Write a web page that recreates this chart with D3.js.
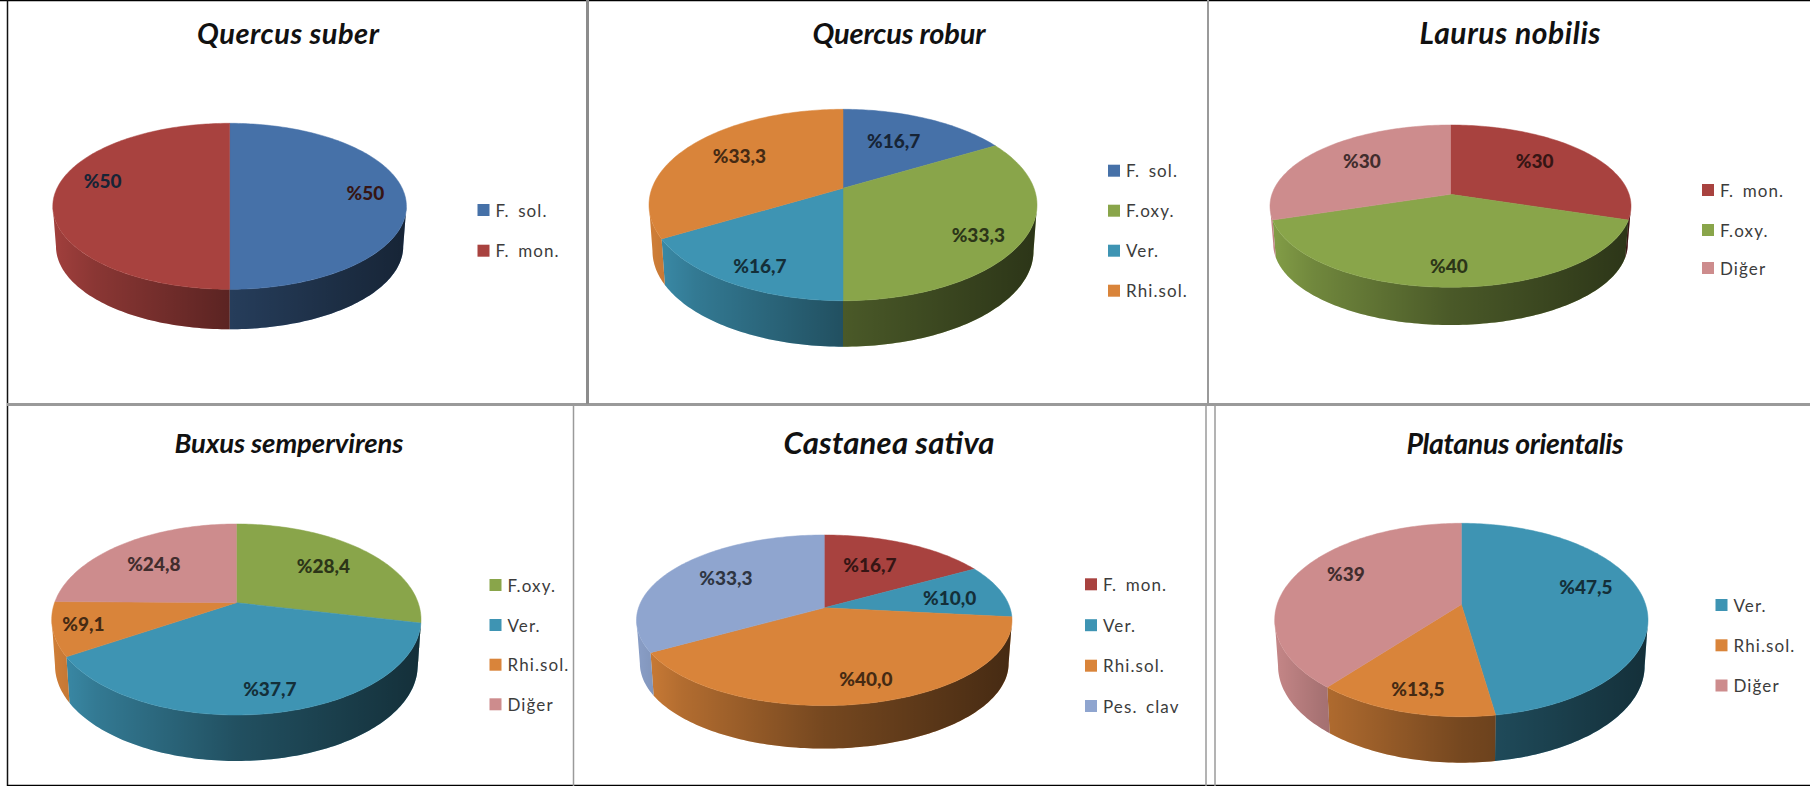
<!DOCTYPE html>
<html>
<head>
<meta charset="utf-8">
<script src="https://cdn.jsdelivr.net/npm/d3@7"></script>
<style>
  html, body { margin: 0; padding: 0; background: #fff; }
  svg { display: block; }
  .title { font-family: Lato, sans-serif; font-style: italic; font-weight: 700; text-anchor: middle; fill: #111; }
  .legend-text { font: 400 17px Lato, sans-serif; fill: #3c3c3c; letter-spacing: 1.1px; word-spacing: 3px; dominant-baseline: central; }
  .pct { font: 900 19px Lato, sans-serif; text-anchor: middle; dominant-baseline: central; }
</style>
</head>
<body>
<div class="chart"></div>
<script>
// === Data ===
const titles = ["Quercus suber", "Quercus robur", "Laurus nobilis", "Buxus sempervirens", "Castanea sativa", "Platanus orientalis"];

const suberNames = ["F. sol.", "F. mon."];
const suberValues = [50, 50];
const suberLabels = ["%50", "%50"];

const roburNames = ["F. sol.", "F.oxy.", "Ver.", "Rhi.sol."];
const roburValues = [16.7, 33.3, 16.7, 33.3];
const roburLabels = ["%16,7", "%33,3", "%16,7", "%33,3"];

const laurusNames = ["F. mon.", "F.oxy.", "Diğer"];
const laurusValues = [30, 40, 30];
const laurusLabels = ["%30", "%40", "%30"];

const buxusNames = ["F.oxy.", "Ver.", "Rhi.sol.", "Diğer"];
const buxusValues = [28.4, 37.7, 9.1, 24.8];
const buxusLabels = ["%28,4", "%37,7", "%9,1", "%24,8"];

const castaneaNames = ["F. mon.", "Ver.", "Rhi.sol.", "Pes. clav"];
const castaneaValues = [16.7, 10.0, 40.0, 33.3];
const castaneaLabels = ["%16,7", "%10,0", "%40,0", "%33,3"];

const platanusNames = ["Ver.", "Rhi.sol.", "Diğer"];
const platanusValues = [47.5, 13.5, 39];
const platanusLabels = ["%47,5", "%13,5", "%39"];

const fungusColor = d3.scaleOrdinal()
    .domain(["F. sol.", "F. mon.", "F.oxy.", "Ver.", "Rhi.sol.", "Diğer", "Pes. clav"])
    .range(["#4671a8", "#a8423f", "#89a54a", "#3e94b3", "#d9843a", "#cd8c8d", "#8fa5cf"]);

// === Layout of each panel (pie outline, value labels, legend, title) ===
const pies = [
    {left: 52.8, right: 406.4, top: 123.3, apex: 193, front: 289.3, depth: 40},
    {left: 649, right: 1037, top: 109.3, apex: 188.3, front: 300.7, depth: 46},
    {left: 1270, right: 1631, top: 125, apex: 194.3, front: 287.3, depth: 37.7},
    {left: 51.7, right: 421, top: 524, apex: 602.7, front: 715, depth: 46},
    {left: 636.5, right: 1012, top: 535, apex: 607.8, front: 705.6, depth: 43},
    {left: 1274.7, right: 1648, top: 523.3, apex: 604.4, front: 716.7, depth: 46}
];
const labelSpots = [
    [[102.6, 180], [365.5, 192.7]],
    [[893.7, 140], [978.3, 234.3], [760, 265], [739.5, 155]],
    [[1534.6, 160.7], [1449, 265.7], [1361.9, 160.7]],
    [[323.4, 565.2], [269.8, 688.2], [83.4, 623.9], [153.8, 563.2]],
    [[870, 564.2], [949.6, 597.7], [866, 678.8], [726, 577]],
    [[1586, 586], [1417.9, 688.2], [1346, 573.6]]
];
const legends = [
    {x: 477.5, ys: [210, 250.7]},
    {x: 1108, ys: [170.7, 210.7, 250.7, 290.7]},
    {x: 1702, ys: [190, 230, 268]},
    {x: 489.5, ys: [585, 625, 664.7, 704.3]},
    {x: 1085, ys: [584.3, 625.2, 665.7, 706]},
    {x: 1715.5, ys: [605, 645.3, 685.5]}
];
const titleSpots = [[288, 44], [899, 44], [1510, 44], [289, 453], [889, 454], [1515, 454]];
const titleWidths = [182, 173, 181, 229, 211, 217];
const titleSizes = [29, 29, 30, 27.5, 31, 28.5];

const panels = [
    {names: suberNames, values: suberValues, labels: suberLabels},
    {names: roburNames, values: roburValues, labels: roburLabels},
    {names: laurusNames, values: laurusValues, labels: laurusLabels},
    {names: buxusNames, values: buxusValues, labels: buxusLabels},
    {names: castaneaNames, values: castaneaValues, labels: castaneaLabels},
    {names: platanusNames, values: platanusValues, labels: platanusLabels}
];

// === Frame lines between the panels ===
const frameLines = [
    {x1: 0, y1: 0.5, x2: 1810, y2: 0.5, color: "#000", w: 1.5},
    {x1: 7.5, y1: 0, x2: 7.5, y2: 786, color: "#111", w: 1.5},
    {x1: 7, y1: 785.5, x2: 1810, y2: 785.5, color: "#000", w: 1.5},
    {x1: 7, y1: 404.5, x2: 1810, y2: 404.5, color: "#9a9a9a", w: 3},
    {x1: 587.5, y1: 0, x2: 587.5, y2: 404, color: "#8c8c8c", w: 3},
    {x1: 1208, y1: 0, x2: 1208, y2: 404, color: "#9a9a9a", w: 2},
    {x1: 573.5, y1: 405, x2: 573.5, y2: 786, color: "#9a9a9a", w: 1.5},
    {x1: 1206, y1: 405, x2: 1206, y2: 786, color: "#9a9a9a", w: 1.5},
    {x1: 1215, y1: 405, x2: 1215, y2: 786, color: "#9a9a9a", w: 1.5}
];

const svg = d3.select(".chart").append("svg")
    .attr("width", 1810)
    .attr("height", 786);

const defs = svg.append("defs");
const line = d3.line();
const pie = d3.pie().sort(null);

svg.selectAll(".frame")
    .data(frameLines)
    .enter()
    .append("line")
    .attr("class", "frame")
    .attr("x1", d => d.x1).attr("y1", d => d.y1)
    .attr("x2", d => d.x2).attr("y2", d => d.y2)
    .attr("stroke", d => d.color)
    .attr("stroke-width", d => d.w);

// tilted disc: the near side of the rim is stretched, so the apex sits above the outline's middle
function rimProjection(o) {
    const up = o.apex - o.top;
    const down = o.front - o.apex;
    const p = (down - up) / (down + up);
    const q = up * (1 + p);
    const cx = (o.left + o.right) / 2;
    const kx = (o.right - o.left) / 2 * Math.sqrt(1 - p * p);
    const rim = (angle, scaleX = 1, scaleY = 1, drop = 0) => {
        const sx = Math.sin(angle);
        const sy = -Math.cos(angle);
        const w = 1 - p * sy;
        return [cx + scaleX * kx * sx / w, o.apex + scaleY * q * sy / w + drop];
    };
    // angle where the rim reaches its widest point on screen
    rim.turn = Math.acos(-p);
    return rim;
}

function arcAngles(a0, a1) {
    const n = Math.max(2, Math.ceil((a1 - a0) / 0.02));
    return d3.range(n + 1).map(i => a0 + (a1 - a0) * i / n);
}

panels.forEach((panel, i) => {
    const o = pies[i];
    const rim = rimProjection(o);
    const g = svg.append("g").attr("class", "panel");
    const slices = pie(panel.values);

    // horizontal darkening of the wall, light on the left, dark on the right
    const shadeId = "shade" + i;
    const shade = defs.append("linearGradient")
        .attr("id", shadeId)
        .attr("gradientUnits", "userSpaceOnUse")
        .attr("x1", o.left).attr("x2", o.right)
        .attr("y1", 0).attr("y2", 0);
    shade.append("stop").attr("offset", 0).attr("stop-color", "#000").attr("stop-opacity", 0.04);
    shade.append("stop").attr("offset", 0.12).attr("stop-color", "#000").attr("stop-opacity", 0.18);
    shade.append("stop").attr("offset", 0.5).attr("stop-color", "#000").attr("stop-opacity", 0.46);
    shade.append("stop").attr("offset", 1).attr("stop-color", "#000").attr("stop-opacity", 0.68);

    // wall first, only the part between the two widest points of the rim
    const nearFrom = rim.turn;
    const nearTo = Math.PI * 2 - rim.turn;
    const wallPath = d => {
        const a0 = Math.max(d.startAngle, nearFrom);
        const a1 = Math.min(d.endAngle, nearTo);
        if (a1 <= a0) return null;
        const angles = arcAngles(a0, a1);
        const upper = angles.map(a => rim(a));
        const lower = angles.slice().reverse().map(a => rim(a, 0.982, 1, o.depth));
        return line(upper.concat(lower)) + "Z";
    };
    g.selectAll(".wall")
        .data(slices)
        .enter()
        .append("path")
        .attr("class", "wall")
        .attr("d", wallPath)
        .attr("fill", (d, j) => fungusColor(panel.names[j]));
    g.selectAll(".wall-shade")
        .data(slices)
        .enter()
        .append("path")
        .attr("class", "wall-shade")
        .attr("d", wallPath)
        .attr("fill", "url(#" + shadeId + ")");

    // top face
    g.selectAll(".face")
        .data(slices)
        .enter()
        .append("path")
        .attr("class", "face")
        .attr("d", d => {
            const pts = arcAngles(d.startAngle, d.endAngle).map(a => rim(a));
            return line([rim(0, 0, 0)].concat(pts)) + "Z";
        })
        .attr("fill", (d, j) => fungusColor(panel.names[j]))
        .attr("stroke", (d, j) => fungusColor(panel.names[j]))
        .attr("stroke-width", 0.5);

    // value labels
    g.selectAll(".pct")
        .data(panel.labels)
        .enter()
        .append("text")
        .attr("class", "pct")
        .attr("x", (d, j) => labelSpots[i][j][0])
        .attr("y", (d, j) => labelSpots[i][j][1])
        .attr("fill", (d, j) => d3.color(fungusColor(panel.names[j])).darker(3.2))
        .text(d => d);

    // legend
    const rows = g.selectAll(".legend-row")
        .data(panel.names)
        .enter()
        .append("g")
        .attr("class", "legend-row")
        .attr("transform", (d, j) => "translate(" + legends[i].x + "," + legends[i].ys[j] + ")");
    rows.append("rect")
        .attr("y", -6)
        .attr("width", 12)
        .attr("height", 12)
        .attr("fill", d => fungusColor(d));
    rows.append("text")
        .attr("class", "legend-text")
        .attr("x", 18)
        .text(d => d);

    g.append("text")
        .attr("class", "title")
        .attr("x", titleSpots[i][0])
        .attr("y", titleSpots[i][1])
        .attr("font-size", titleSizes[i])
        .attr("textLength", titleWidths[i])
        .text(titles[i]);
});
</script>
</body>
</html>
